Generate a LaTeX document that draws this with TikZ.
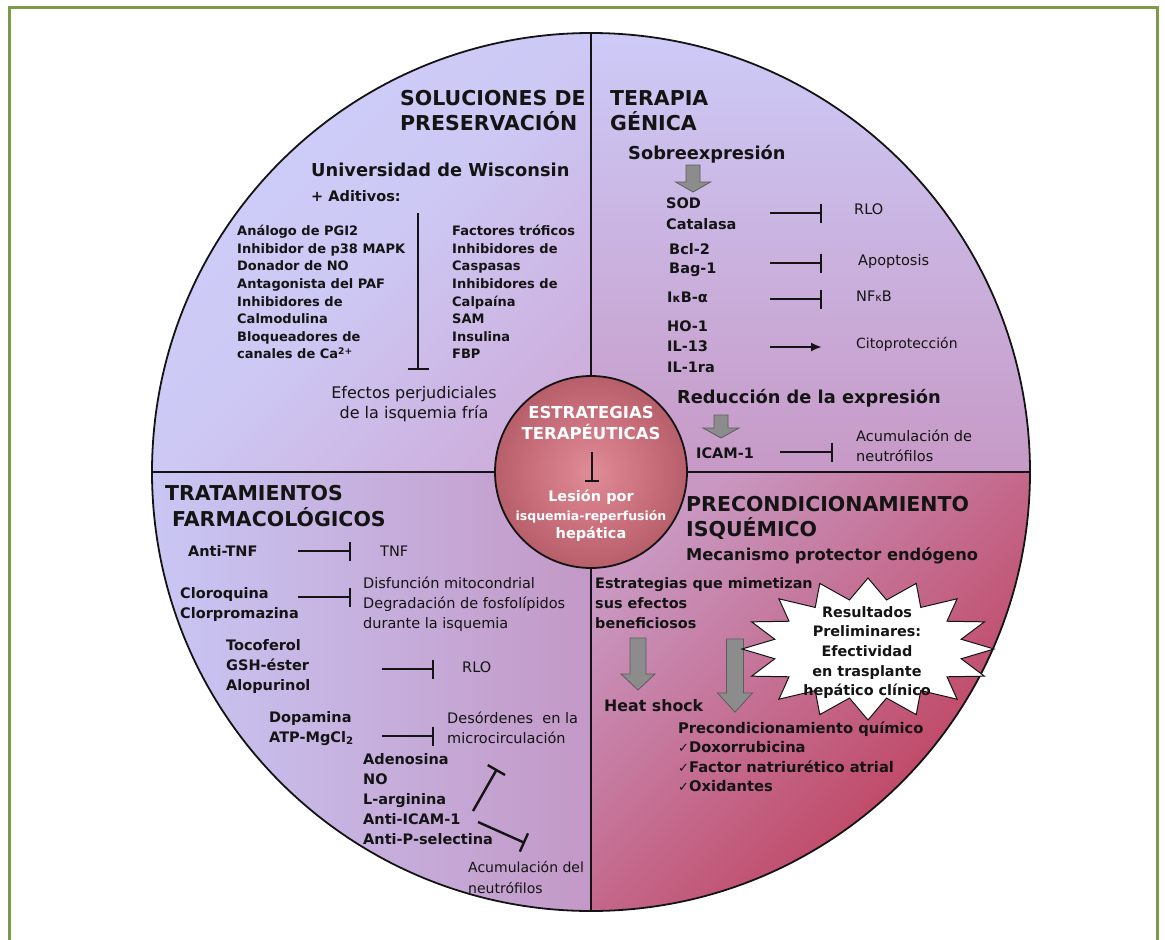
\documentclass[tikz,border=0pt]{standalone}
\usepackage{fontspec}
\setmainfont{DejaVu Sans}
\usetikzlibrary{arrows.meta}
\definecolor{frame}{HTML}{7E9A48}
\definecolor{tlA}{HTML}{CDCDF9}
\definecolor{tlB}{HTML}{CDB0DE}
\definecolor{trA}{HTML}{CDCBF8}
\definecolor{trB}{HTML}{C799C6}
\definecolor{blA}{HTML}{C9C7F5}
\definecolor{blB}{HTML}{C398C6}
\definecolor{brA}{HTML}{C998C2}
\definecolor{brB}{HTML}{BE3752}
\definecolor{ballA}{HTML}{E08C97}
\definecolor{ballB}{HTML}{C86E7B}
\definecolor{ballC}{HTML}{A04855}
\definecolor{ballD}{HTML}{782836}
\definecolor{txt}{HTML}{141414}
\definecolor{gfill}{HTML}{8C8C8C}
\definecolor{gline}{HTML}{5C5C5C}
\pgfdeclareradialshading{ctrball}{\pgfpoint{0bp}{0bp}}{color(0bp)=(ballA); color(16bp)=(ballB); color(38bp)=(ballC); color(50bp)=(ballD)}
\newcommand{\lft}[1]{\vtop{\let\\\cr\halign{##\hfil\cr#1\crcr}}}
\newcommand{\ctr}[1]{\vtop{\let\\\cr\halign{\hfil##\hfil\cr#1\crcr}}}
\newcommand{\chk}{{\mdseries\fontsize{13}{13}\selectfont ✓}}
\newcommand{\blockarr}[6]{\draw[garrow] ({#1-#4},#2) -- ({#1+#4},#2) -- ({#1+#4},{#3-#6}) -- ({#1+#5},{#3-#6}) -- (#1,#3) -- ({#1-#5},{#3-#6}) -- ({#1-#4},{#3-#6}) -- cycle;}
\begin{document}
\begin{tikzpicture}[x=1pt,y=-1pt,
  every node/.style={inner sep=0pt, anchor=base west, text=txt},
  hd/.style={font=\bfseries\fontsize{20.5}{25}\selectfont},
  sub/.style={font=\bfseries\fontsize{17.8}{22}\selectfont},
  lstA/.style={font=\bfseries\fontsize{13}{17.6}\selectfont},
  lst/.style={font=\bfseries\fontsize{14.5}{20.5}\selectfont},
  lbl/.style={font=\fontsize{14.5}{20}\selectfont},
  inh/.style={line width=2.4pt, draw=txt, -{Bar[width=19pt,line width=2.4pt]}},
  act/.style={line width=2.4pt, draw=txt, -{Latex[length=11pt,width=9pt]}},
  garrow/.style={fill=gfill, draw=gline, line width=0.8pt},
  divider/.style={line width=1.8pt, draw=txt}]
\useasboundingbox (0,0) rectangle (1165,940);
\draw[line width=3pt, frame] (9,945) -- (9,7) -- (1157,7) -- (1157,945);

\coordinate (C) at (591,472);
\begin{scope}
  \clip (C) circle (439);
  \shade[top color=tlA, bottom color=tlB, middle color=tlA!85!tlB, shading angle=45] (150,31) rectangle (591,472);
  \shade[top color=trA, bottom color=trB] (591,31) rectangle (1032,472);
  \shade[left color=blA, right color=blB] (150,472) rectangle (591,913);
  \shade[top color=brA, bottom color=brB, shading angle=45] (591,472) rectangle (1032,913);
\end{scope}
\draw[divider] (591,33) -- (591,911);
\draw[divider] (152,472) -- (1030,472);
\draw[divider] (C) circle (439);

% ---------- top left
\node[hd] (solu) at (400,105) {\lft{SOLUCIONES DE\\PRESERVACIÓN}};
\node[sub] (uw) at (311,176.5) {Universidad de Wisconsin};
\node[font=\bfseries\fontsize{14.5}{18}\selectfont] (adit) at (311,201) {+ Aditivos:};
\node[lstA] (listL) at (237,235.7) {\lft{Análogo de PGI2\\Inhibidor de p38 MAPK\\Donador de NO\\Antagonista del PAF\\Inhibidores de\\Calmodulina\\Bloqueadores de\\canales de Ca\textsuperscript{2+}}};
\node[lstA] (listR) at (452,235.7) {\lft{Factores tróficos\\Inhibidores de\\Caspasas\\Inhibidores de\\Calpaína\\SAM\\Insulina\\FBP}};
\coordinate (tl1) at (418,213); \coordinate (tl2) at (418,370);
\draw[inh, -{Bar[width=21pt,line width=2.4pt]}] (tl1) -- (tl2);
\node[font=\fontsize{16}{20}\selectfont, anchor=base] (efect) at (414,398) {\ctr{Efectos perjudiciales\\de la isquemia fría}};

% ---------- top right
\node[hd] (tera) at (610,105) {\lft{TERAPIA\\GÉNICA}};
\node[sub] (sobre) at (628,159.5) {Sobreexpresión};
\blockarr{693}{165}{192}{7}{17.5}{10}
\node[lst, font=\bfseries\fontsize{14.5}{21}\selectfont] (sod) at (666,208) {\lft{SOD\\Catalasa}};
\coordinate (r1a) at (770,213); \coordinate (r1b) at (822,213);
\draw[inh] (r1a) -- (r1b);
\node[lbl] (rlo1) at (854,214) {RLO};
\node[lst, font=\bfseries\fontsize{14.5}{19}\selectfont] (bcl) at (669,254) {\lft{Bcl-2\\Bag-1}};
\coordinate (r2a) at (770,263); \coordinate (r2b) at (822,263);
\draw[inh] (r2a) -- (r2b);
\node[lbl] (apop) at (858,265) {Apoptosis};
\node[lst] (ikb) at (667,302) {I{\fontsize{11.5}{12}\selectfont κ}B-α};
\coordinate (r3a) at (770,299); \coordinate (r3b) at (822,299);
\draw[inh] (r3a) -- (r3b);
\node[lbl] (nfkb) at (856,301) {NF{\fontsize{11}{12}\selectfont κ}B};
\node[lst] (ho) at (667,331) {\lft{HO-1\\IL-13\\IL-1ra}};
\coordinate (r4a) at (770,347); \coordinate (r4b) at (822,347);
\draw[act] (r4a) -- (r4b);
\node[lbl, font=\fontsize{14}{20}\selectfont] (cito) at (856,348) {Citoprotección};
\node[sub] (reduc) at (677,403.5) {Reducción de la expresión};
\blockarr{721}{415}{438}{7}{18}{10}
\node[lst] (icam) at (696,458) {ICAM-1};
\coordinate (r5a) at (780,452); \coordinate (r5b) at (833,452);
\draw[inh] (r5a) -- (r5b);
\node[lbl] (acum1) at (856,441) {\lft{Acumulación de\\neutrófilos}};

% ---------- bottom left
\node[hd] (trat1) at (165,500.4) {TRATAMIENTOS};
\node[hd] (trat2) at (172,526) {FARMACOLÓGICOS};
\node[lst] (antitnf) at (188,556) {Anti-TNF};
\coordinate (b1a) at (298,551); \coordinate (b1b) at (351,551);
\draw[inh] (b1a) -- (b1b);
\node[lbl] (tnf) at (380,556) {TNF};
\node[lst, font=\bfseries\fontsize{14.5}{20}\selectfont] (cloro) at (180,598) {\lft{Cloroquina\\Clorpromazina}};
\coordinate (b2a) at (298,597); \coordinate (b2b) at (351,597);
\draw[inh] (b2a) -- (b2b);
\node[lbl] (disf) at (363,588) {\lft{Disfunción mitocondrial\\Degradación de fosfolípidos\\durante la isquemia}};
\node[lst, font=\bfseries\fontsize{14.5}{20}\selectfont] (toco) at (226,650) {\lft{Tocoferol\\GSH-éster\\Alopurinol}};
\coordinate (b3a) at (382,669); \coordinate (b3b) at (434,669);
\draw[inh] (b3a) -- (b3b);
\node[lbl] (rlo2) at (462,672) {RLO};
\node[lst, font=\bfseries\fontsize{14.5}{20}\selectfont] (dopa) at (269,722) {\lft{Dopamina\\ATP-MgCl\textsubscript{2}}};
\coordinate (b4a) at (382,736); \coordinate (b4b) at (434,736);
\draw[inh] (b4a) -- (b4b);
\node[lbl] (deso) at (447,723) {\lft{Desórdenes\ \ en la\\microcirculación}};
\node[lst, font=\bfseries\fontsize{14.5}{20}\selectfont] (adeno) at (363,764) {\lft{Adenosina\\NO\\L-arginina\\Anti-ICAM-1\\Anti-P-selectina}};
\coordinate (b5a) at (473,811); \coordinate (b5b) at (497,769);
\draw[inh, -{Bar[width=20pt,line width=2.4pt]}] (b5a) -- (b5b);
\coordinate (b6a) at (478,822); \coordinate (b6b) at (525,843);
\draw[inh, -{Bar[width=20pt,line width=2.4pt]}] (b6a) -- (b6b);
\node[font=\fontsize{14}{21}\selectfont] (acum2) at (468,872) {\lft{Acumulación del\\neutrófilos}};

% ---------- bottom right
\node[hd] (prec) at (686,511.4) {\lft{PRECONDICIONAMIENTO\\ISQUÉMICO}};
\node[font=\bfseries\fontsize{16.3}{20}\selectfont] (meca) at (686,560) {Mecanismo protector endógeno};
\node[font=\bfseries\fontsize{14.4}{20}\selectfont] (estrat) at (595,588) {\lft{Estrategias que mimetizan\\sus efectos\\beneficiosos}};
\blockarr{638}{638}{690}{8}{17}{16}
\node[font=\bfseries\fontsize{15.8}{20}\selectfont] (heat) at (604,711) {Heat shock};
\blockarr{735}{639}{712}{8.5}{17.5}{19}
\draw[fill=white, draw=txt, line width=1pt, line join=miter] plot[domain=0:31, samples=32, variable=\k] ({868+ifthenelse(mod(\k,2)==0,126,95)*cos(\k*11.25)}, {649+ifthenelse(mod(\k,2)==0,71,50)*sin(\k*11.25)}) -- cycle;
\node[font=\bfseries\fontsize{14.4}{19.7}\selectfont, anchor=base] (result) at (867,617) {\ctr{Resultados\\Preliminares:\\Efectividad\\en trasplante\\hepático clínico}};
\node[font=\bfseries\fontsize{14.7}{19.5}\selectfont] (quim) at (678,733) {\lft{Precondicionamiento químico\\\chk Doxorrubicina\\\chk Factor natriurético atrial\\\chk Oxidantes}};

% ---------- center
\shade[shading=ctrball] (C) circle (96);
\draw[line width=1.8pt, draw=txt] (C) circle (96);
\node[font=\bfseries\fontsize{16.5}{21}\selectfont, text=white, anchor=base] (estr) at (591,418) {\ctr{ESTRATEGIAS\\TERAPÉUTICAS}};
\coordinate (c1) at (592,452); \coordinate (c2) at (592,482);
\draw[inh, -{Bar[width=14pt,line width=2.4pt]}] (c1) -- (c2);
\node[font=\bfseries\fontsize{12.5}{18.5}\selectfont, text=white, anchor=base] (lesion) at (591,501.5) {\ctr{{\fontsize{14.5}{18.5}\selectfont Lesión por}\\isquemia-reperfusión\\{\fontsize{14.5}{18.5}\selectfont hepática}}};
\end{tikzpicture}
\end{document}
